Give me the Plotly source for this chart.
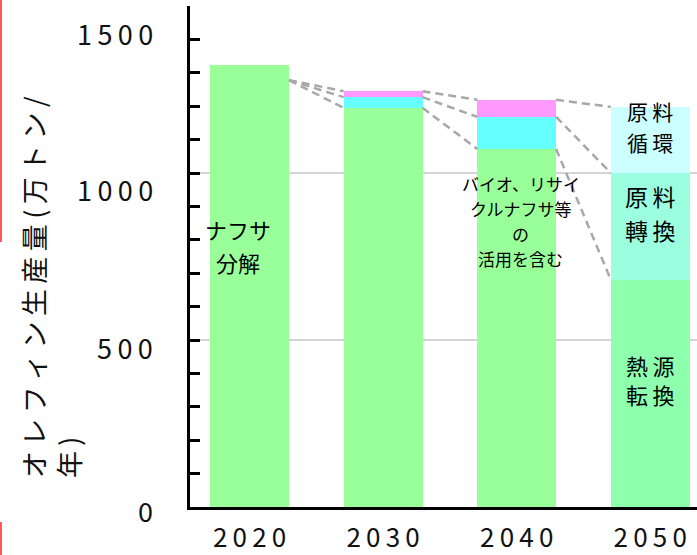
import plotly.graph_objects as go

# ---------------- data ----------------
years = [2020, 2030, 2040, 2050]
year_labels = ["2020", "2030", "2040", "2050"]

naphtha = [1323, 1195, 1072, None]        # ナフサ分解
bio_naphtha = [None, 32, 96, None]        # cyan segment
recycle_naphtha = [None, 18, 51, None]    # pink segment
heat_conv = [None, None, None, 680]       # 熱源転換
feed_conv = [None, None, None, 320]       # 原料轉換
feed_circ = [None, None, None, 198]       # 原料循環
origin_2020 = 1278                        # start level of 2020 connector lines

y_ticks = [0, 500, 1000, 1500]

FONT = "Noto Sans CJK JP"
THIN = "\u2009"

def spaced(s):
    return THIN.join(list(s))

BAR_W = 5.9

fig = go.Figure()

series = [
    (naphtha, "#99ff99"),
    (bio_naphtha, "#66ffff"),
    (recycle_naphtha, "#ff99ff"),
    (heat_conv, "#8dffad"),
    (feed_conv, "#9bffdf"),
    (feed_circ, "#ccffff"),
]
for vals, col in series:
    fig.add_trace(go.Bar(x=years, y=vals, width=BAR_W, marker=dict(color=col, line=dict(width=0)),
                         showlegend=False, hoverinfo="skip"))

def tops(i):
    out = []
    acc = 0
    for vals in [naphtha, bio_naphtha, recycle_naphtha, heat_conv, feed_conv, feed_circ]:
        v = vals[i] or 0
        acc += v
        out.append(acc)
    return out

t2030 = tops(1)
t2040 = tops(2)
t2050 = tops(3)
half = BAR_W / 2
connectors = []
for lvl in [t2030[0], t2030[1], t2030[2]]:
    connectors.append(([years[0] + half, years[1] - half], [origin_2020, lvl]))
for a, b in zip([t2030[0], t2030[1], t2030[2]], [t2040[0], t2040[1], t2040[2]]):
    connectors.append(([years[1] + half, years[2] - half], [a, b]))
for a, b in zip([t2040[0], t2040[1], t2040[2]], [t2050[3], t2050[4], t2050[5]]):
    connectors.append(([years[2] + half, years[3] - half], [a, b]))

for xs, ys in connectors:
    fig.add_trace(go.Scatter(x=xs, y=ys, mode="lines",
                             line=dict(color="#a8a8a8", width=2.5, dash="8px,5px"),
                             showlegend=False, hoverinfo="skip"))

ann = []
# y tick labels (placed where the reference shows them)
label_pos = [-0.006, 0.319, 0.633, 0.946]
for v, p in zip(y_ticks, label_pos):
    ann.append(dict(x=-0.069, xref="paper", y=p, yref="paper", text=spaced(str(v)), showarrow=False,
                    xanchor="right", yanchor="middle", font=dict(family=FONT, size=27, color="#111")))

# axis title
ann.append(dict(x=-0.274, xref="paper", y=0.054, yref="paper",
                text=spaced("オレフィン生産量(万トン/") + "<br>" + spaced("年)"),
                textangle=-90, align="left",
                showarrow=False, xanchor="center", yanchor="bottom",
                font=dict(family=FONT, size=27, color="#111")))

def lines(x, xshift, ys, texts, size):
    for y, t in zip(ys, texts):
        ann.append(dict(x=x, xref="x", xshift=xshift, y=y, yref="y", text=t, showarrow=False,
                        font=dict(family=FONT, size=size, color="#000")))

lines(2020, -12, [831, 735], ["ナフサ", "分解"], 22)
lines(2040, 4, [970, 895, 820, 745], ["バイオ、リサイ", "クルナフサ等", "の", "活用を含む"], 17)
lines(2050, 0, [1185, 1094], [spaced("原料"), spaced("循環")], 21)
lines(2050, 0, [931, 829], [spaced("原料"), spaced("轉換")], 23)
lines(2050, 0, [425, 338], [spaced("熱源"), spaced("転換")], 22)

fig.update_layout(
    width=697, height=555,
    margin=dict(l=190, r=0, t=6, b=48),
    paper_bgcolor="white", plot_bgcolor="white",
    barmode="stack",
    annotations=ann,
    font=dict(family=FONT),
    shapes=[
        dict(type="line", xref="paper", yref="paper", x0=-189 / 507, x1=-189 / 507,
             y0=1 + 6 / 501, y1=(507 - 242) / 501, line=dict(color="#ff5a5a", width=2)),
        dict(type="line", xref="paper", yref="paper", x0=-189 / 507, x1=-189 / 507,
             y0=(507 - 522) / 501, y1=-48 / 501, line=dict(color="#ff5a5a", width=2)),
    ],
)
fig.update_xaxes(range=[2015.54, 2053.5], tickvals=years, ticktext=[spaced(s) for s in year_labels],
                 showline=True, linecolor="black", linewidth=3, ticks="", showgrid=False, zeroline=False,
                 ticklabelstandoff=6, automargin=False,
                 tickfont=dict(family=FONT, size=26, color="#111"))
fig.update_yaxes(range=[0, 1500], tickvals=[500, 1000], showticklabels=False, automargin=False,
                 showline=True, linecolor="black", linewidth=3, ticks="inside", ticklen=10,
                 tickwidth=2.5, tickcolor="black", showgrid=True, gridcolor="#d4d4d4", gridwidth=2,
                 zeroline=False,
                 minor=dict(tick0=0, dtick=100, ticks="inside", ticklen=10, tickwidth=2.5,
                            tickcolor="black", showgrid=False))

fig.write_html("out.html")
